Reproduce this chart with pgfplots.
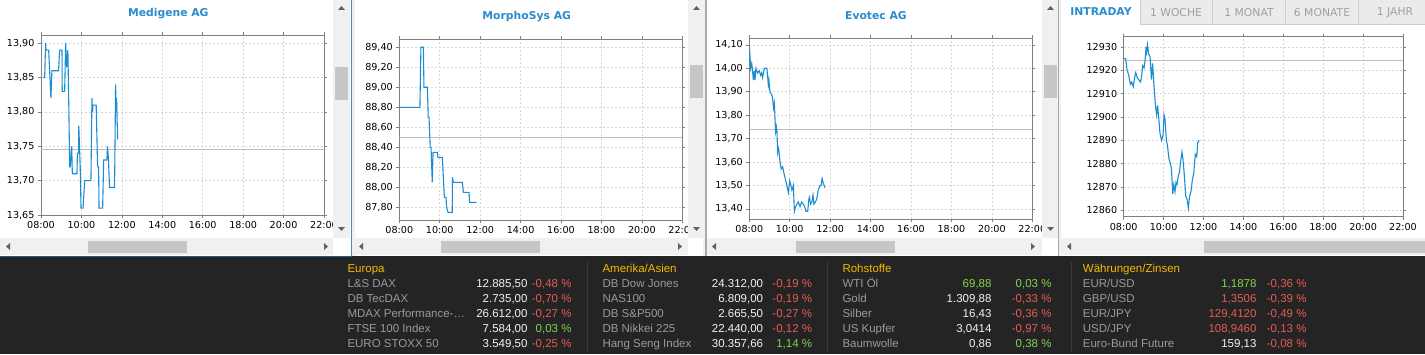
\documentclass[border=0pt]{standalone}
\usepackage{pgfplots}
\pgfplotsset{compat=1.18}
\usepackage{fontspec}
\setmainfont{Liberation Sans}
\newfontfamily\dv{DejaVu Sans}
\definecolor{linec}{HTML}{1B8ED3}
\definecolor{titlec}{HTML}{2B8CCD}
\definecolor{gridc}{HTML}{D6D6D6}
\definecolor{axc}{HTML}{808080}
\definecolor{refc}{HTML}{BDBDBD}
\definecolor{sbbg}{HTML}{F0F0F0}
\definecolor{sbth}{HTML}{C6C6C6}
\definecolor{sbar}{HTML}{606060}
\definecolor{darkbg}{HTML}{242424}
\definecolor{namec}{HTML}{9A9A9A}
\definecolor{valc}{HTML}{F2F2F2}
\definecolor{redc}{HTML}{E35B55}
\definecolor{grnc}{HTML}{7CD64B}
\definecolor{hdrc}{HTML}{F2BC00}
\definecolor{sepc}{HTML}{3A3A3A}
\definecolor{tabbg}{HTML}{EBEBEB}
\definecolor{tabln}{HTML}{CFCFCF}
\definecolor{tabtx}{HTML}{A0A0A0}
\definecolor{bluel}{HTML}{4A8BBE}
\definecolor{seamc}{HTML}{A8A8A8}
\definecolor{topln}{HTML}{2D5D85}
\newcommand\tickfont{\dv\fontsize{9.6}{10}\selectfont}
\newcommand\titlefont{\dv\bfseries\fontsize{10.8}{12}\selectfont}
\newcommand\bt{\fontsize{11.5}{13}\selectfont}
\newcommand\mdaxname{MDAX Performance-\ldots}
\pgfplotsset{
 chart/.style={
  scale only axis, anchor=north west,
  xmin=8, xmax=22, xtick={8,10,...,22},
  xticklabels={08:00,10:00,12:00,14:00,16:00,18:00,20:00,22:00},
  grid=major, major grid style={dash pattern=on 2pt off 2pt, draw=gridc, line width=0.6pt},
  axis line style={draw=axc, line width=0.9pt},
  tick align=outside, major tick length=3pt, tick style={draw=axc, line width=0.6pt},
  ticklabel style={font=\tickfont, text=black},
  scaled y ticks=false,
  /pgf/number format/assume math mode=true,
  yticklabel style={/pgf/number format/fixed, /pgf/number format/fixed zerofill, /pgf/number format/precision=2, /pgf/number format/use comma, /pgf/number format/1000 sep={}},
 },
 dline/.style={draw=linec, line width=1.1pt, mark=none},
 rline/.style={draw=refc, line width=0.8pt, mark=none},
}
\begin{document}
\begin{tikzpicture}
\path[use as bounding box] (0,0) rectangle (1425pt,354pt);
\fill[white] (0,0) rectangle (1425pt,354pt);

% ---------- chart 1: Medigene
\begin{axis}[chart, at={(41pt,319pt)}, width=283pt, height=180pt,
  ymin=13.65, ymax=13.912, ytick={13.65,13.7,13.75,13.8,13.85,13.9}]
\addplot[rline] coordinates {(8,13.745) (22,13.745)};
\addplot[dline] coordinates {(8.10,13.85) (8.18,13.85) (8.23,13.90) (8.25,13.89) (8.38,13.89) (8.49,13.82) (8.54,13.86) (8.87,13.86) (8.92,13.89) (9.04,13.89) (9.05,13.83) (9.17,13.83) (9.22,13.90) (9.27,13.865) (9.33,13.89) (9.38,13.80) (9.42,13.72) (9.45,13.72) (9.52,13.75) (9.55,13.71) (9.78,13.71) (9.80,13.74) (9.86,13.74) (9.87,13.78) (9.94,13.72) (9.98,13.66) (10.08,13.66) (10.16,13.70) (10.47,13.70) (10.52,13.82) (10.55,13.80) (10.57,13.81) (10.73,13.81) (10.80,13.72) (10.85,13.72) (10.87,13.66) (11.05,13.66) (11.10,13.73) (11.26,13.73) (11.29,13.75) (11.34,13.73) (11.39,13.69) (11.64,13.69) (11.69,13.84) (11.72,13.80) (11.74,13.82) (11.79,13.76)};
\end{axis}

% ---------- chart 2: MorphoSys
\begin{axis}[chart, at={(399.3pt,314.7pt)}, width=283pt, height=180.7pt,
  ymin=87.673, ymax=89.48, ytick={87.8,88,88.2,88.4,88.6,88.8,89,89.2,89.4}]
\addplot[rline] coordinates {(8,88.50) (22,88.50)};
\addplot[dline] coordinates {(8.00,88.80) (9.02,88.80) (9.07,89.40) (9.19,89.40) (9.22,89.00) (9.39,89.00) (9.43,88.70) (9.47,88.70) (9.53,88.40) (9.57,88.40) (9.63,88.05) (9.67,88.35) (9.88,88.35) (9.91,88.30) (10.13,88.30) (10.23,87.90) (10.31,87.90) (10.34,87.80) (10.41,87.75) (10.62,87.75) (10.63,88.10) (10.67,88.05) (11.12,88.05) (11.17,87.95) (11.45,87.95) (11.48,87.85) (11.83,87.85)};
\end{axis}

% ---------- chart 3: Evotec
\begin{axis}[chart, at={(749.3pt,315.7pt)}, width=283pt, height=180.7pt,
  ymin=13.357, ymax=14.128, ytick={13.4,13.5,13.6,13.7,13.8,13.9,14,14.1}]
\addplot[rline] coordinates {(8,13.74) (22,13.74)};
\addplot[dline] coordinates {(8.00,14.10) (8.07,14.00) (8.12,14.02) (8.15,14.00) (8.20,13.95) (8.25,13.99) (8.28,13.95) (8.33,14.00) (8.41,13.98) (8.49,13.99) (8.56,13.97) (8.61,13.98) (8.66,13.96) (8.74,14.00) (8.87,14.00) (8.94,13.93) (8.97,13.95) (9.02,13.90) (9.09,13.89) (9.14,13.88) (9.20,13.83) (9.24,13.85) (9.30,13.73) (9.34,13.75) (9.37,13.73) (9.40,13.64) (9.45,13.66) (9.52,13.60) (9.58,13.57) (9.65,13.58) (9.72,13.55) (9.80,13.52) (9.86,13.50) (9.93,13.47) (10.00,13.52) (10.06,13.50) (10.11,13.48) (10.18,13.50) (10.23,13.39) (10.29,13.41) (10.36,13.42) (10.42,13.43) (10.51,13.41) (10.59,13.43) (10.67,13.42) (10.74,13.41) (10.80,13.39) (10.89,13.39) (10.94,13.44) (10.98,13.45) (11.03,13.42) (11.10,13.43) (11.15,13.46) (11.20,13.42) (11.27,13.43) (11.33,13.44) (11.41,13.48) (11.50,13.50) (11.55,13.50) (11.60,13.53) (11.66,13.51) (11.74,13.49)};
\end{axis}

% ---------- chart 4: DAX intraday
\begin{axis}[chart, at={(1123.7pt,317.3pt)}, width=279.3pt, height=180pt,
  ymin=12857.3, ymax=12934.4, ytick={12860,12870,...,12930},
  yticklabel style={/pgf/number format/fixed, /pgf/number format/precision=0, /pgf/number format/fixed zerofill=false, /pgf/number format/1000 sep={}}]
\addplot[rline] coordinates {(8,12924.3) (22,12924.3)};
\addplot[dline] coordinates {(8.00,12925) (8.10,12925) (8.17,12920) (8.25,12918) (8.33,12914) (8.40,12915) (8.48,12913) (8.55,12917) (8.60,12919) (8.67,12917) (8.75,12916) (8.84,12915) (8.89,12917) (8.95,12922) (9.02,12921) (9.07,12924) (9.12,12930) (9.15,12928) (9.19,12931) (9.25,12927) (9.32,12926) (9.39,12916) (9.45,12923) (9.52,12913) (9.59,12905) (9.65,12901) (9.70,12905) (9.75,12900) (9.82,12893) (9.90,12890) (9.97,12892) (10.02,12901) (10.07,12899) (10.14,12890) (10.19,12888) (10.27,12882) (10.34,12880) (10.39,12878) (10.46,12867) (10.51,12871) (10.57,12868) (10.62,12872) (10.67,12871) (10.74,12875) (10.79,12876) (10.84,12880) (10.92,12885) (10.97,12882) (11.04,12875) (11.11,12866) (11.17,12865) (11.24,12861) (11.30,12866) (11.37,12868) (11.44,12873) (11.51,12876) (11.59,12884) (11.66,12883) (11.71,12889) (11.79,12890)};
\end{axis}

% ---------- overlays in pixel coordinates (y downwards)
\begin{scope}[x=1pt,y=-1pt,yshift=354pt]
% titles
\node[font=\titlefont, text=titlec] at (168.3,13.3) {Medigene AG};
\node[font=\titlefont, text=titlec] at (526.7,16.7) {MorphoSys AG};
\node[font=\titlefont, text=titlec] at (876,15.7) {Evotec AG};
% tabs
\fill[tabbg] (1140,0) rectangle (1425,24);
\draw[tabln, line width=0.8pt] (1140,0) -- (1140,24) -- (1425,24);
\foreach \sx in {1212,1285,1358} \draw[tabln, line width=0.8pt] (\sx,0) -- (\sx,24);
\node[font=\dv\bfseries\fontsize{10.8}{12}\selectfont, text=titlec] at (1101,12) {INTRADAY};
\node[font=\dv\fontsize{10.8}{12}\selectfont, text=tabtx] at (1176,12.5) {1 WOCHE};
\node[font=\dv\fontsize{10.8}{12}\selectfont, text=tabtx] at (1249,12.5) {1 MONAT};
\node[font=\dv\fontsize{10.8}{12}\selectfont, text=tabtx] at (1322,12.5) {6 MONATE};
\node[font=\dv\fontsize{10.8}{12}\selectfont, text=tabtx] at (1395,12.5) {1 JAHR};

% vertical scrollbars (panels 1-3)
\foreach \vx/\vt in {333/67, 688/65, 1042/65}{
  \fill[sbbg] (\vx,0) rectangle (\vx+17,238);
  \fill[sbth] (\vx+2,\vt) rectangle (\vx+15,\vt+33);
  \fill[sbar] (\vx+5,10) -- (\vx+12,10) -- (\vx+8.5,6) -- cycle;
  \fill[sbar] (\vx+5,227) -- (\vx+12,227) -- (\vx+8.5,231) -- cycle;
}
% horizontal scrollbars
\fill[sbbg] (0,238) rectangle (333,255);
\fill[white] (333,238) rectangle (351,255);
\fill[sbth] (88,241) rectangle (187,253);
\fill[sbbg] (353,238) rectangle (688,255);
\fill[white] (688,238) rectangle (705,255);
\fill[sbth] (441,241) rectangle (540,253);
\fill[sbbg] (707,238) rectangle (1042,255);
\fill[white] (1042,238) rectangle (1058,255);
\fill[sbth] (796,241) rectangle (895,253);
\fill[sbbg] (1061,238) rectangle (1425,255);
\fill[sbth] (1204,241) rectangle (1425,253);
\foreach \lx in {5,358,711,1066}
  \fill[sbar] (\lx+5,243) -- (\lx+5,250) -- (\lx+1,246.5) -- cycle;
\foreach \rx in {324,678,1031}
  \fill[sbar] (\rx,243) -- (\rx,250) -- (\rx+4,246.5) -- cycle;
% panel seams
\fill[bluel] (350.5,0) rectangle (352,256);
\fill[sbbg] (352,0) rectangle (355,256);
\fill[sbbg] (703,0) rectangle (705,256);
\fill[seamc] (705,0) rectangle (706.5,256);
\fill[seamc] (1057.5,0) rectangle (1059,256);
\fill[sbbg] (1059,0) rectangle (1061,256);

% dark bottom panel
\fill[darkbg] (0,256) rectangle (1425,354);
\draw[topln, line width=1pt] (0,256.5) -- (352,256.5);
\foreach \sx in {587,827.7,1071.7} \draw[sepc, line width=1pt] (\sx,262) -- (\sx,352);

% headers
\node[anchor=base west, inner sep=0, font=\bt, text=hdrc] at (347.3,272.3) {Europa};
\node[anchor=base west, inner sep=0, font=\bt, text=hdrc] at (602.3,272.3) {Amerika/Asien};
\node[anchor=base west, inner sep=0, font=\bt, text=hdrc] at (842.3,272.3) {Rohstoffe};
\node[anchor=base west, inner sep=0, font=\bt, text=hdrc] at (1082.7,272.3) {Währungen/Zinsen};

% Europa
\foreach \yy/\nm/\va/\pc/\pcc in {
  287.3/L\&S DAX/12.885{,}50/-0{,}48 \%/redc,
  302.3/DB TecDAX/2.735{,}00/-0{,}70 \%/redc,
  317.3/\mdaxname/26.612{,}00/-0{,}27 \%/redc,
  332.3/FTSE 100 Index/7.584{,}00/0{,}03 \%/grnc,
  347.3/EURO STOXX 50/3.549{,}50/-0{,}25 \%/redc}{
  \node[anchor=base west, inner sep=0, font=\bt, text=namec] at (347.3,\yy) {\nm};
  \node[anchor=base east, inner sep=0, font=\bt, text=valc] at (527.7,\yy) {\va};
  \node[anchor=base east, inner sep=0, font=\bt, text=\pcc] at (571.7,\yy) {\pc};
}
% Amerika/Asien
\foreach \yy/\nm/\va/\pc/\pcc in {
  287.3/DB Dow Jones/24.312{,}00/-0{,}19 \%/redc,
  302.3/NAS100/6.809{,}00/-0{,}19 \%/redc,
  317.3/DB S\&P500/2.665{,}50/-0{,}27 \%/redc,
  332.3/DB Nikkei 225/22.440{,}00/-0{,}12 \%/redc,
  347.3/Hang Seng Index/30.357{,}66/1{,}14 \%/grnc}{
  \node[anchor=base west, inner sep=0, font=\bt, text=namec] at (602.3,\yy) {\nm};
  \node[anchor=base east, inner sep=0, font=\bt, text=valc] at (763.3,\yy) {\va};
  \node[anchor=base east, inner sep=0, font=\bt, text=\pcc] at (812.3,\yy) {\pc};
}
% Rohstoffe
\foreach \yy/\nm/\va/\vac/\pc/\pcc in {
  287.3/WTI Öl/69{,}88/grnc/0{,}03 \%/grnc,
  302.3/Gold/1.309{,}88/valc/-0{,}33 \%/redc,
  317.3/Silber/16{,}43/valc/-0{,}36 \%/redc,
  332.3/US Kupfer/3{,}0414/valc/-0{,}97 \%/redc,
  347.3/Baumwolle/0{,}86/valc/0{,}38 \%/grnc}{
  \node[anchor=base west, inner sep=0, font=\bt, text=namec] at (842.3,\yy) {\nm};
  \node[anchor=base east, inner sep=0, font=\bt, text=\vac] at (991.7,\yy) {\va};
  \node[anchor=base east, inner sep=0, font=\bt, text=\pcc] at (1051.7,\yy) {\pc};
}
% Waehrungen/Zinsen
\foreach \yy/\nm/\va/\vac/\pc/\pcc in {
  287.3/EUR\slash USD/1{,}1878/grnc/-0{,}36 \%/redc,
  302.3/GBP\slash USD/1{,}3506/redc/-0{,}39 \%/redc,
  317.3/EUR\slash JPY/129{,}4120/redc/-0{,}49 \%/redc,
  332.3/USD\slash JPY/108{,}9460/redc/-0{,}13 \%/redc,
  347.3/Euro-Bund Future/159{,}13/valc/-0{,}08 \%/redc}{
  \node[anchor=base west, inner sep=0, font=\bt, text=namec] at (1082.7,\yy) {\nm};
  \node[anchor=base east, inner sep=0, font=\bt, text=\vac] at (1256.7,\yy) {\va};
  \node[anchor=base east, inner sep=0, font=\bt, text=\pcc] at (1306.7,\yy) {\pc};
}
\end{scope}
\end{tikzpicture}
\end{document}
